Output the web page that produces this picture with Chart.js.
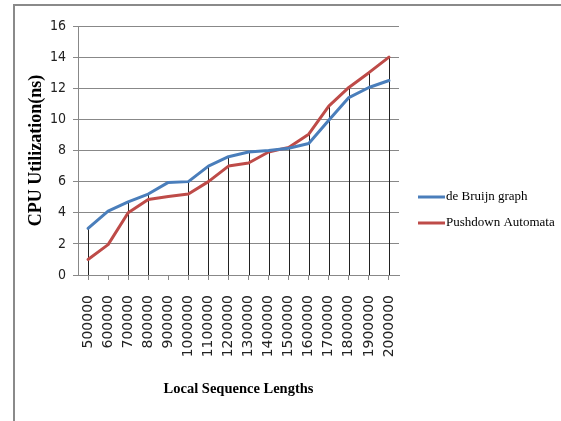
<!DOCTYPE html>
<html><head><meta charset="utf-8">
<script src="https://cdn.jsdelivr.net/npm/chart.js@4/dist/chart.umd.min.js"></script>
<style>html,body{margin:0;padding:0;background:#fff}</style>
</head><body>
<canvas id="c" width="561" height="421"></canvas>
<script>
const categories = ['500000','600000','700000','800000','900000','1000000','1100000','1200000','1300000','1400000','1500000','1600000','1700000','1800000','1900000','2000000'];
const deBruijn = [3.0,4.1,4.7,5.2,5.95,6.0,7.0,7.6,7.9,8.0,8.15,8.45,9.95,11.4,12.05,12.5];
const pushdown = [1.0,1.95,4.0,4.85,5.05,5.2,6.0,7.0,7.2,7.9,8.2,9.05,10.85,12.05,13.0,14.0];
const yTicks = [0,2,4,6,8,10,12,14,16];
const seriesNames = ['de Bruijn graph','Pushdown Automata'];
const seriesColors = ['#4A7EBB','#BE4B48'];
const hiddenDropLines = [1,4];

const frame = {
  id:'frame',
  beforeDraw(chart){
    const ctx = chart.ctx;
    ctx.save();
    ctx.fillStyle='#fff'; ctx.fillRect(0,0,chart.width,chart.height);
    ctx.strokeStyle='#8a8a8a'; ctx.lineWidth=2;
    ctx.beginPath(); ctx.moveTo(14,421); ctx.lineTo(14,5); ctx.lineTo(561,5); ctx.stroke();
    ctx.restore();
  }
};
const dropLines = {
  id:'dropLines',
  beforeDatasetsDraw(chart){
    const {ctx, scales:{x,y}} = chart;
    ctx.save(); ctx.strokeStyle='#222'; ctx.lineWidth=1;
    categories.forEach((c,i)=>{
      if (hiddenDropLines.includes(i)) return;
      const top = Math.max(deBruijn[i], pushdown[i]);
      const px = Math.round(x.getPixelForValue(i))+0.5;
      ctx.beginPath(); ctx.moveTo(px, y.getPixelForValue(0)); ctx.lineTo(px, y.getPixelForValue(top)); ctx.stroke();
    });
    ctx.restore();
  }
};
const customLegend = {
  id:'customLegend',
  afterDraw(chart){
    const ctx = chart.ctx;
    ctx.save();
    chart.data.datasets.forEach((ds,i)=>{
      const yy = 197 + i*26;
      ctx.strokeStyle = ds.borderColor; ctx.lineWidth = 3;
      ctx.beginPath(); ctx.moveTo(418,yy); ctx.lineTo(445,yy); ctx.stroke();
      ctx.fillStyle='#000'; ctx.font='13px "Liberation Serif", serif';
      ctx.textBaseline='middle'; ctx.textAlign='left';
      ctx.fillText(ds.label, 446, yy);
    });
    ctx.restore();
  }
};

new Chart(document.getElementById('c'), {
  type:'line',
  data:{
    labels: categories,
    datasets:[
      {label:seriesNames[0], data:deBruijn, borderColor:seriesColors[0], backgroundColor:seriesColors[0]},
      {label:seriesNames[1], data:pushdown, borderColor:seriesColors[1], backgroundColor:seriesColors[1]}
    ]
  },
  options:{
    responsive:false, animation:false,
    layout:{padding:{top:26,right:162,bottom:23,left:0}},
    plugins:{legend:{display:false}, tooltip:{enabled:false}},
    elements:{point:{radius:0}, line:{borderWidth:3, tension:0, borderCapStyle:'round', borderJoinStyle:'round'}},
    scales:{
      x:{
        offset:true,
        grid:{display:true, drawOnChartArea:false, drawTicks:true, tickLength:5, color:'#888'},
        border:{color:'#888'},
        ticks:{minRotation:90, maxRotation:90, padding:15, autoSkip:false, color:'#222', font:{family:'"DejaVu Sans", sans-serif', size:14}},
        title:{display:true, text:'Local Sequence Lengths', color:'#000', font:{family:'"Liberation Serif", serif', size:14.5, weight:'bold'}, padding:{top:0,bottom:0}},
        afterFit(s){ s.height = 123; }
      },
      y:{
        min:0, max:16,
        afterBuildTicks(s){ s.ticks = yTicks.map(v=>({value:v})); },
        grid:{color:'#888', tickLength:5},
        border:{color:'#888'},
        ticks:{padding:7, color:'#222', font:{family:'"Liberation Sans Narrow", "DejaVu Sans Condensed", sans-serif', size:14}},
        title:{display:true, text:'CPU Utilization(ns)', color:'#000', font:{family:'"Liberation Serif", serif', size:18, weight:'bold'}, padding:{top:26,bottom:0}},
        afterFit(s){ s.width = 78; }
      }
    }
  },
  plugins:[frame, dropLines, customLegend]
});
</script>
</body></html>
